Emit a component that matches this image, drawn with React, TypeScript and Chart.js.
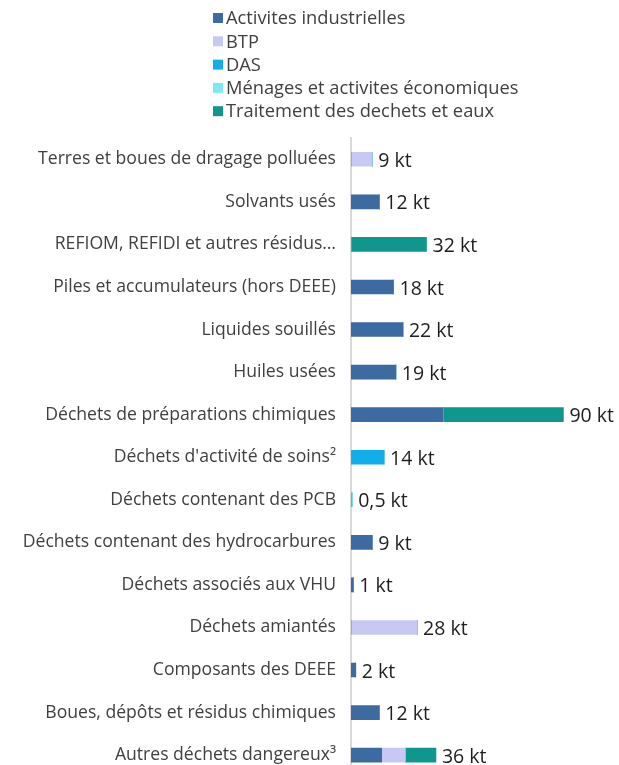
import { useEffect, useRef } from "react";
import { Chart, registerables } from "chart.js";

Chart.register(...registerables);

const categories = [
  "Terres et boues de dragage polluées",
  "Solvants usés",
  "REFIOM, REFIDI et autres résidus…",
  "Piles et accumulateurs (hors DEEE)",
  "Liquides souillés",
  "Huiles usées",
  "Déchets de préparations chimiques",
  "Déchets d'activité de soins²",
  "Déchets contenant des PCB",
  "Déchets contenant des hydrocarbures",
  "Déchets associés aux VHU",
  "Déchets amiantés",
  "Composants des DEEE",
  "Boues, dépôts et résidus chimiques",
  "Autres déchets dangereux³",
];

const seriesNames = [
  "Activites industrielles",
  "BTP",
  "DAS",
  "Ménages et activites économiques",
  "Traitement des dechets et eaux",
];

// tonnages in kt, one value per category
const activitesIndustrielles = [0, 12, 0, 18, 22, 19, 39, 0, 0, 9, 1, 0, 2, 12, 13];
const btp = [9, 0, 0, 0, 0, 0, 0, 0, 0, 0, 0, 28, 0, 0, 10];
const das = [0, 0, 0, 0, 0, 0, 0, 14, 0, 0, 0, 0, 0, 0, 0];
const menages = [0, 0, 0, 0, 0, 0, 0, 0, 0.5, 0, 0, 0, 0, 0, 0];
const traitement = [0, 0, 32, 0, 0, 0, 51, 0, 0, 0, 0, 0, 0, 0, 13];

const seriesColors = ["#3d6ba1", "#c8c8f4", "#12aeea", "#7ee9f2", "#0f968d"];

const FONT = "'Open Sans', 'Liberation Sans', sans-serif";

const legendPlugin = {
  id: "stackedLegend",
  afterDraw(chart: any) {
    const ctx = chart.ctx;
    ctx.save();
    ctx.font = `18.3px ${FONT}`;
    ctx.textBaseline = "middle";
    ctx.textAlign = "left";
    chart.data.datasets.forEach((ds: any, i: number) => {
      const y = 18 + i * 23.3;
      ctx.fillStyle = ds.backgroundColor;
      ctx.fillRect(213, y - 5, 10, 10);
      ctx.fillStyle = "#404040";
      ctx.fillText(ds.label, 226, y + 1);
    });
    ctx.restore();
  },
};

const totalsPlugin = {
  id: "stackTotals",
  afterDatasetsDraw(chart: any) {
    const ctx = chart.ctx;
    const xs = chart.scales.x;
    const ys = chart.scales.y;
    ctx.save();
    ctx.font = `19.5px ${FONT}`;
    ctx.fillStyle = "#1e1e1e";
    ctx.textBaseline = "middle";
    ctx.textAlign = "left";
    categories.forEach((_, i) => {
      const total = chart.data.datasets.reduce(
        (s: number, ds: any) => s + (ds.data[i] || 0),
        0
      );
      const x = xs.getPixelForValue(total) + 6;
      const y = ys.getPixelForValue(i) + 2;
      ctx.fillText(`${String(total).replace(".", ",")} kt`, x, y);
    });
    ctx.restore();
  },
};

export default function App() {
  const canvasRef = useRef<HTMLCanvasElement | null>(null);

  useEffect(() => {
    const series = [activitesIndustrielles, btp, das, menages, traitement];
    const chart = new Chart(canvasRef.current as HTMLCanvasElement, {
      type: "bar",
      data: {
        labels: categories,
        datasets: series.map((data, i) => ({
          label: seriesNames[i],
          data,
          backgroundColor: seriesColors[i],
          borderWidth: 0,
          barThickness: 14,
        })),
      },
      options: {
        indexAxis: "y",
        animation: false,
        responsive: false,
        layout: { padding: { top: 138, bottom: 14, left: 0, right: 32 } },
        scales: {
          x: {
            stacked: true,
            display: false,
            min: 0,
            max: 100,
          },
          y: {
            stacked: true,
            afterFit(scale: any) {
              scale.width = 351;
            },
            grid: { display: false, drawTicks: false },
            border: { display: true, color: "#d9d9d9", width: 2 },
            ticks: {
              color: "#404040",
              padding: 15,
              autoSkip: false,
              font: { family: FONT, size: 17.6 },
            },
          },
        },
        plugins: {
          legend: { display: false },
          tooltip: { enabled: false },
        },
      },
      plugins: [legendPlugin, totalsPlugin],
    });
    return () => chart.destroy();
  }, []);

  return (
    <div
      style={{
        position: "fixed",
        top: 0,
        left: 0,
        width: 619,
        height: 765,
        overflow: "hidden",
        background: "#ffffff",
      }}
    >
      <canvas
        ref={canvasRef}
        width={619}
        height={802}
        style={{ display: "block", width: 619, height: 802 }}
      />
    </div>
  );
}
